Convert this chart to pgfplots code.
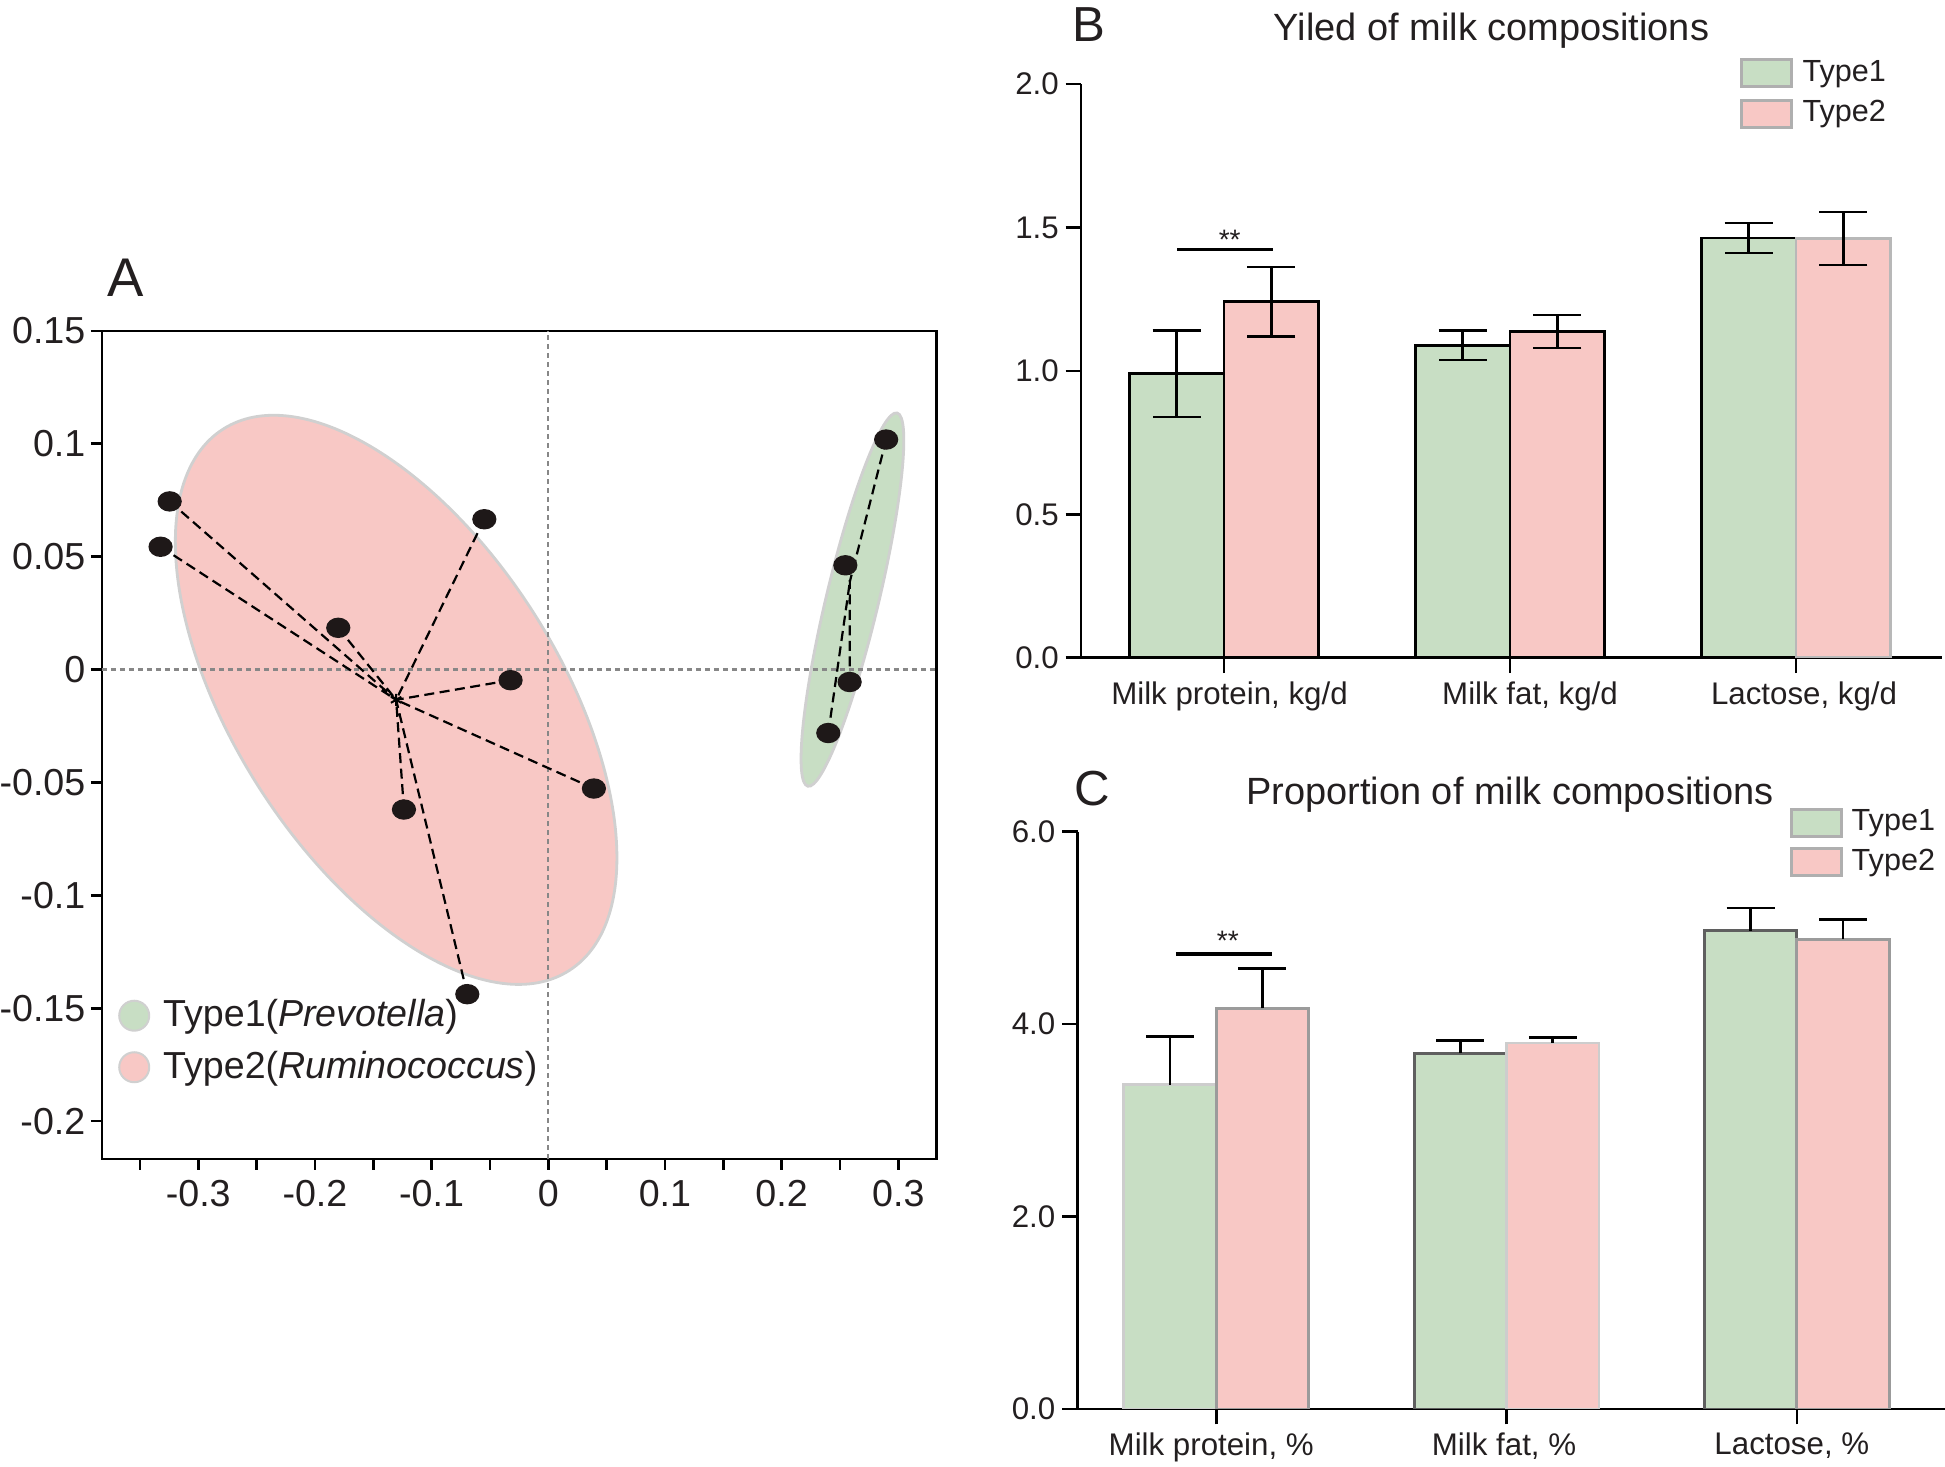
\documentclass[border=0pt]{standalone}
\usepackage{pgfplots}
\pgfplotsset{compat=1.18}
\usepackage{fontspec}
\setmainfont{Liberation Sans}
\definecolor{tg}{RGB}{200,222,196}
\definecolor{tp}{RGB}{248,200,197}
\definecolor{ring}{RGB}{208,208,208}
\definecolor{dotc}{RGB}{30,24,24}
\definecolor{zl}{RGB}{135,135,135}
\definecolor{txt}{RGB}{35,31,32}
\definecolor{lg}{RGB}{205,205,205}
\definecolor{mg}{RGB}{155,155,155}
\definecolor{dg}{RGB}{95,95,95}
\begin{document}
\begin{tikzpicture}[x=1mm,y=1mm]
\path[use as bounding box] (0,0) rectangle (194.5,146.7);
% ---------------- Panel A ----------------
\begin{axis}[
  at={(10.2mm,30.8mm)}, anchor=south west, scale only axis,
  width=83.47mm, height=82.8mm,
  xmin=-0.3825, xmax=0.3329, ymin=-0.2168, ymax=0.15,
  axis line style={line width=0.27mm, black},
  tick style={line width=0.27mm, black},
  tick align=outside, major tick length=1.1mm, minor tick length=1.1mm,
  xtick pos=bottom, ytick pos=left,
  xtick={-0.3,-0.2,-0.1,0,0.1,0.2,0.3},
  xticklabels={-0.3,-0.2,-0.1,0,0.1,0.2,0.3},
  minor xtick={-0.35,-0.25,-0.15,-0.05,0.05,0.15,0.25},
  ytick={-0.2,-0.15,-0.1,-0.05,0,0.05,0.1,0.15},
  yticklabels={-0.2,-0.15,-0.1,-0.05,0,0.05,0.1,0.15},
  ticklabel style={font=\fontsize{10.7}{12}\selectfont, text=txt},
  yticklabel style={inner sep=0pt, xshift=-0.5mm},
  xticklabel style={inner sep=0pt, yshift=-1.0mm},
  legend style={at={(0.0186,0.1419)}, anchor=west, draw=none, fill=none,
    font=\fontsize{10.7}{12}\selectfont, text=txt, inner sep=0pt,
    nodes={inner sep=0.65mm}, cells={anchor=west}, row sep=0.6mm},
  legend image code/.code={\filldraw[#1] (1.5mm,0mm) circle[radius=1.5mm]; \path (3.65mm,0mm);},
]
\fill[tp, draw=ring, line width=0.28mm] (axis cs:-0.1304,-0.0134) circle[x radius=32.13mm, y radius=16.27mm, rotate=-57.4];
\fill[tg, draw=ring, line width=0.28mm] (axis cs:0.2607,0.031) circle[x radius=19.19mm, y radius=2.62mm, rotate=76.55];
\addplot[forget plot, zl, line width=0.22mm, dash pattern=on 0.5mm off 0.4mm] coordinates {(0,-0.2168) (0,0.15)};
\addplot[forget plot, zl, line width=0.22mm, dash pattern=on 0.5mm off 0.4mm] coordinates {(-0.3825,0) (0.3329,0)};
\addplot[forget plot, black, line width=0.22mm, dash pattern=on 1.0mm off 0.55mm, unbounded coords=jump] coordinates {
 (-0.3245,0.0745) (-0.1304,-0.0134) (nan,nan)
 (-0.3323,0.0544) (-0.1304,-0.0134) (nan,nan)
 (-0.0548,0.0666) (-0.1304,-0.0134) (nan,nan)
 (-0.1800,0.0185) (-0.1304,-0.0134) (nan,nan)
 (-0.0323,-0.0047) (-0.1304,-0.0134) (nan,nan)
 (0.0391,-0.0527) (-0.1304,-0.0134) (nan,nan)
 (-0.1237,-0.0620) (-0.1304,-0.0134) (nan,nan)
 (-0.0694,-0.1438) (-0.1304,-0.0134) (nan,nan)
 (0.2896,0.1019) (0.2585,0.039) (nan,nan)
 (0.2546,0.0462) (0.2585,0.039) (nan,nan)
 (0.2583,-0.0055) (0.2585,0.039) (nan,nan)
 (0.2400,-0.0281) (0.2585,0.039)
};
\addplot[forget plot, only marks, mark=asterisk, mark size=0.6mm, black, line width=0.2mm] coordinates {(-0.1304,-0.0134)};
\addplot[forget plot, only marks, mark=*, mark size=0.95mm, mark options={fill=dotc, draw=dotc, xscale=1.2}] coordinates {
 (-0.3245,0.0745) (-0.3323,0.0544) (-0.0548,0.0666) (-0.1800,0.0185)
 (-0.0323,-0.0047) (0.0391,-0.0527) (-0.1237,-0.0620) (-0.0694,-0.1438)
 (0.2896,0.1019) (0.2546,0.0462) (0.2583,-0.0055) (0.2400,-0.0281)};
\addlegendimage{fill=tg, draw=ring, line width=0.2mm}
\addlegendentry{Type1(\textit{Prevotella})}
\addlegendimage{fill=tp, draw=ring, line width=0.2mm}
\addlegendentry{Type2(\textit{Ruminococcus})}
\end{axis}
% ---------------- Panel B ----------------
\begin{axis}[
  at={(108.1mm,80.93mm)}, anchor=south west, scale only axis,
  width=86.09mm, height=57.37mm,
  xmin=-0.5, xmax=2.51, ymin=0, ymax=2,
  axis x line=bottom, axis y line=left,
  axis line style={line width=0.26mm, black, -},
  tick style={line width=0.26mm, black},
  tick align=outside, major tick length=1.55mm,
  ybar=0pt, bar width=9.47mm,
  xtick={0,1,2},
  xticklabels={{\hspace*{1.1mm}Milk protein, kg/d},{\hspace*{4mm}Milk fat, kg/d},{\hspace*{1.6mm}Lactose, kg/d}},
  ytick={0,0.5,1,1.5,2}, yticklabels={0.0,0.5,1.0,1.5,2.0},
  ticklabel style={font=\fontsize{8.9}{10}\selectfont, text=txt},
  yticklabel style={inner sep=0pt, xshift=-0.6mm},
  xticklabel style={inner sep=0pt, yshift=-0.8mm},
  legend style={at={(0.7643,0.9835)}, anchor=west, draw=none, fill=none,
    font=\fontsize{8.7}{10}\selectfont, text=txt, inner sep=0pt,
    nodes={inner sep=0.3mm}, cells={anchor=west}, row sep=0.8mm},
  legend image code/.code={\draw[#1] (0mm,-1.35mm) rectangle (5mm,1.35mm); \path (5.7mm,0mm);},
  error bars/error bar style={line width=0.26mm, black},
  error bars/error mark options={rotate=90, mark size=2.4mm, line width=0.26mm, black},
]
\addplot[forget plot, fill=tg, draw=black, line width=0.28mm, bar shift=-4.735mm,
  error bars/.cd, y dir=both, y explicit]
  coordinates {(0,0.990) +- (0,0.151) (1,1.089) +- (0,0.051) (2,1.463) +- (0,0.052)};
\addplot[forget plot, fill=tp, draw=black, line width=0.28mm, bar shift=4.735mm,
  error bars/.cd, y dir=both, y explicit]
  coordinates {(0,1.241) +- (0,0.121) (1,1.137) +- (0,0.057)};
\addplot[forget plot, fill=tp, draw=lg!90!black, line width=0.28mm, bar shift=4.735mm,
  error bars/.cd, y dir=both, y explicit]
  coordinates {(2,1.461) +- (0,0.092)};
\draw[black, line width=0.36mm] (axis cs:-0.164,1.423) -- (axis cs:0.171,1.423);
\node[font=\fontsize{8}{9}\selectfont, text=txt, anchor=south, inner sep=0pt] at (axis cs:0.02,1.42) {**};
\addlegendimage{fill=tg, draw=mg!80, line width=0.3mm}
\addlegendentry{Type1}
\addlegendimage{fill=tp, draw=mg!80, line width=0.3mm}
\addlegendentry{Type2}
\end{axis}
% ---------------- Panel C ----------------
\begin{axis}[
  at={(107.75mm,5.8mm)}, anchor=south west, scale only axis,
  width=86.74mm, height=57.73mm,
  xmin=-0.478, xmax=2.51, ymin=0, ymax=6,
  axis x line=bottom, axis y line=left,
  axis line style={line width=0.26mm, black, -},
  tick style={line width=0.26mm, black},
  tick align=outside, major tick length=1.55mm,
  ybar=0pt, bar width=9.24mm,
  xtick={0,1,2},
  xticklabels={{Milk protein, \%\hspace*{1mm}},{Milk fat, \%\hspace*{0.5mm}},{Lactose, \%\hspace*{1mm}}},
  ytick={0,2,4,6}, yticklabels={0.0,2.0,4.0,6.0},
  ticklabel style={font=\fontsize{8.9}{10}\selectfont, text=txt},
  yticklabel style={inner sep=0pt, xshift=-0.6mm},
  xticklabel style={inner sep=0pt, yshift=-0.8mm},
  legend style={at={(0.8203,0.981)}, anchor=west, draw=none, fill=none,
    font=\fontsize{8.7}{10}\selectfont, text=txt, inner sep=0pt,
    nodes={inner sep=0.3mm}, cells={anchor=west}, row sep=0.65mm},
  legend image code/.code={\draw[#1] (0mm,-1.35mm) rectangle (5mm,1.35mm); \path (5.6mm,0mm);},
  error bars/error bar style={line width=0.26mm, black},
  error bars/error mark options={rotate=90, mark size=2.4mm, line width=0.26mm, black},
]
\addplot[forget plot, fill=tg, draw=lg, line width=0.28mm, bar shift=-4.62mm,
  error bars/.cd, y dir=plus, y explicit]
  coordinates {(0,3.369) +- (0,0.505)};
\addplot[forget plot, fill=tg, draw=dg, line width=0.28mm, bar shift=-4.62mm,
  error bars/.cd, y dir=plus, y explicit]
  coordinates {(1,3.697) +- (0,0.131) (2,4.970) +- (0,0.239)};
\addplot[forget plot, fill=tp, draw=mg, line width=0.28mm, bar shift=4.62mm,
  error bars/.cd, y dir=plus, y explicit]
  coordinates {(0,4.165) +- (0,0.416) (2,4.881) +- (0,0.206)};
\addplot[forget plot, fill=tp, draw=lg, line width=0.28mm, bar shift=4.62mm,
  error bars/.cd, y dir=plus, y explicit]
  coordinates {(1,3.804) +- (0,0.056)};
\draw[black, line width=0.36mm] (axis cs:-0.139,4.726) -- (axis cs:0.191,4.726);
\node[font=\fontsize{8}{9}\selectfont, text=txt, anchor=south, inner sep=0pt] at (axis cs:0.04,4.76) {**};
\addlegendimage{fill=tg, draw=mg!80, line width=0.3mm}
\addlegendentry{Type1}
\addlegendimage{fill=tp, draw=mg!80, line width=0.3mm}
\addlegendentry{Type2}
\end{axis}
% ---------------- Titles and panel letters ----------------
\node[anchor=base west, inner sep=0pt, font=\fontsize{15.5}{18}\selectfont, text=txt] at (10.65,117.0) {A};
\node[anchor=base west, inner sep=0pt, font=\fontsize{14}{16}\selectfont, text=txt] at (107.14,142.5) {B};
\node[anchor=base west, inner sep=0pt, font=\fontsize{14}{16}\selectfont, text=txt] at (107.35,66.1) {C};
\node[anchor=base, inner sep=0pt, font=\fontsize{10.8}{12}\selectfont, text=txt] at (149.15,142.65) {Yiled of milk compositions};
\node[anchor=base, inner sep=0pt, font=\fontsize{10.8}{12}\selectfont, text=txt] at (151.0,66.2) {Proportion of milk compositions};
\end{tikzpicture}
\end{document}
